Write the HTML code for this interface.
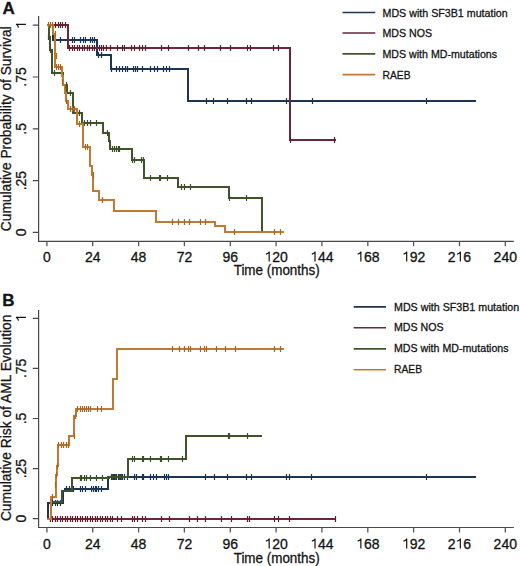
<!DOCTYPE html>
<html><head><meta charset="utf-8"><style>
html,body{margin:0;padding:0;background:#fff;}
body{width:520px;height:566px;overflow:hidden;}
svg{display:block;font-family:"Liberation Sans", sans-serif;}
svg text{fill:#141414;stroke:#141414;stroke-width:0.3px;}
</style></head><body>
<svg width="520" height="566" viewBox="0 0 520 566">
<path d="M38.6,16.1V241.35H513.8" stroke="#484848" stroke-width="1.2" fill="none"/>
<path d="M32.8,25.2H38.6M32.8,77.0H38.6M32.8,128.8H38.6M32.8,180.6H38.6M32.8,232.4H38.6" stroke="#484848" stroke-width="1.2" fill="none"/>
<path d="M46.9,241.35V246.3M92.7,241.35V246.3M138.6,241.35V246.3M184.4,241.35V246.3M230.3,241.35V246.3M276.1,241.35V246.3M321.9,241.35V246.3M367.8,241.35V246.3M413.6,241.35V246.3M459.5,241.35V246.3M505.3,241.35V246.3" stroke="#5a5a5a" stroke-width="1.3" fill="none"/>
<text x="43.01" y="261.5" font-size="14">0</text>
<text x="84.96" y="261.5" font-size="14">2</text><text x="92.74" y="261.5" font-size="14">4</text>
<text x="130.80" y="261.5" font-size="14">4</text><text x="138.58" y="261.5" font-size="14">8</text>
<text x="176.64" y="261.5" font-size="14">7</text><text x="184.42" y="261.5" font-size="14">2</text>
<text x="222.48" y="261.5" font-size="14">9</text><text x="230.26" y="261.5" font-size="14">6</text>
<path d="M269.17,261.50V251.50M269.47,251.80C268.57,253.30 266.97,253.90 265.97,254.10" stroke="#141414" stroke-width="1.2" fill="none"/><text x="272.21" y="261.5" font-size="14">2</text><text x="279.99" y="261.5" font-size="14">0</text>
<path d="M315.01,261.50V251.50M315.31,251.80C314.41,253.30 312.81,253.90 311.81,254.10" stroke="#141414" stroke-width="1.2" fill="none"/><text x="318.05" y="261.5" font-size="14">4</text><text x="325.83" y="261.5" font-size="14">4</text>
<path d="M360.85,261.50V251.50M361.15,251.80C360.25,253.30 358.65,253.90 357.65,254.10" stroke="#141414" stroke-width="1.2" fill="none"/><text x="363.89" y="261.5" font-size="14">6</text><text x="371.67" y="261.5" font-size="14">8</text>
<path d="M406.69,261.50V251.50M406.99,251.80C406.09,253.30 404.49,253.90 403.49,254.10" stroke="#141414" stroke-width="1.2" fill="none"/><text x="409.73" y="261.5" font-size="14">9</text><text x="417.51" y="261.5" font-size="14">2</text>
<text x="447.78" y="261.5" font-size="14">2</text><path d="M460.32,261.50V251.50M460.62,251.80C459.72,253.30 458.12,253.90 457.12,254.10" stroke="#141414" stroke-width="1.2" fill="none"/><text x="463.35" y="261.5" font-size="14">6</text>
<text x="493.62" y="261.5" font-size="14">2</text><text x="501.41" y="261.5" font-size="14">4</text><text x="509.19" y="261.5" font-size="14">0</text>
<g transform="translate(25.9,25.2) rotate(-90)"><path d="M0.86,0.00V-10.00M1.16,-9.70C0.26,-8.20 -1.34,-7.60 -2.34,-7.40" stroke="#141414" stroke-width="1.2" fill="none"/></g>
<g transform="translate(25.9,77.0) rotate(-90)"><text x="-9.73" y="0" font-size="14">.</text><text x="-5.84" y="0" font-size="14">7</text><text x="1.95" y="0" font-size="14">5</text></g>
<g transform="translate(25.9,128.8) rotate(-90)"><text x="-5.84" y="0" font-size="14">.</text><text x="-1.95" y="0" font-size="14">5</text></g>
<g transform="translate(25.9,180.6) rotate(-90)"><text x="-9.73" y="0" font-size="14">.</text><text x="-5.84" y="0" font-size="14">2</text><text x="1.95" y="0" font-size="14">5</text></g>
<g transform="translate(25.9,232.4) rotate(-90)"><text x="-3.89" y="0" font-size="14">0</text></g>
<text x="233.7" y="275.3" font-size="14" textLength="86" lengthAdjust="spacingAndGlyphs">Time (months)</text>
<text transform="translate(11.0,231.2) rotate(-90)" font-size="14" textLength="204.8" lengthAdjust="spacingAndGlyphs">Cumulative Probability of Survival</text>
<path d="M342.5,12.5H375.3" stroke="#1e3552" stroke-width="1.6"/>
<text x="382.5" y="16.8" font-size="11" textLength="125.2" lengthAdjust="spacingAndGlyphs">MDS with SF3B1 mutation</text>
<path d="M342.5,33.0H375.3" stroke="#66283a" stroke-width="1.6"/>
<text x="382.5" y="37.3" font-size="11" textLength="49.5" lengthAdjust="spacingAndGlyphs">MDS NOS</text>
<path d="M342.5,53.9H375.3" stroke="#40542b" stroke-width="1.6"/>
<text x="382.5" y="58.3" font-size="11" textLength="114.6" lengthAdjust="spacingAndGlyphs">MDS with MD-mutations</text>
<path d="M342.5,74.6H375.3" stroke="#c27a32" stroke-width="1.6"/>
<text x="382.5" y="78.7" font-size="11" textLength="28" lengthAdjust="spacingAndGlyphs">RAEB</text>
<path d="M47,25H53V40H97V55H111V69H188V101H476" stroke="#1e3552" stroke-width="2.0" fill="none" stroke-linejoin="miter" stroke-linecap="butt"/>
<path d="M54.5,37.0V43.0M60.5,37.0V43.0M72.5,37.0V43.0M74.5,37.0V43.0M80.5,37.0V43.0M83.5,37.0V43.0M85.5,37.0V43.0M90.5,37.0V43.0M92.5,37.0V43.0M94.5,37.0V43.0" stroke="#1a3352" stroke-width="1.2" fill="none"/>
<path d="M98.5,52.0V58.0M101.5,52.0V58.0" stroke="#1a3352" stroke-width="1.2" fill="none"/>
<path d="M111.5,66.0V72.0M116.5,66.0V72.0M119.5,66.0V72.0M122.5,66.0V72.0M125.5,66.0V72.0M127.5,66.0V72.0M133.5,66.0V72.0M135.5,66.0V72.0M137.5,66.0V72.0M142.5,66.0V72.0M150.5,66.0V72.0M154.5,66.0V72.0M157.5,66.0V72.0M163.5,66.0V72.0M166.5,66.0V72.0M169.5,66.0V72.0" stroke="#1a3352" stroke-width="1.2" fill="none"/>
<path d="M206.5,98.0V104.0M213.5,98.0V104.0M227.5,98.0V104.0M246.5,98.0V104.0M251.5,98.0V104.0M286.5,98.0V104.0M289.5,98.0V104.0M312.5,98.0V104.0M426.5,98.0V104.0" stroke="#1a3352" stroke-width="1.2" fill="none"/>
<path d="M47,25H68V48H290V140H336" stroke="#66283a" stroke-width="2.0" fill="none" stroke-linejoin="miter" stroke-linecap="butt"/>
<path d="M55.5,22.0V28.0M58.5,22.0V28.0M60.5,22.0V28.0M62.5,22.0V28.0M65.5,22.0V28.0" stroke="#5e1d2b" stroke-width="1.2" fill="none"/>
<path d="M69.5,45.0V51.0M72.5,45.0V51.0M74.5,45.0V51.0M77.5,45.0V51.0M79.5,45.0V51.0M82.5,45.0V51.0M84.5,45.0V51.0M87.5,45.0V51.0M89.5,45.0V51.0M92.5,45.0V51.0M94.5,45.0V51.0M99.5,45.0V51.0M101.5,45.0V51.0M103.5,45.0V51.0M106.5,45.0V51.0M110.5,45.0V51.0M117.5,45.0V51.0M122.5,45.0V51.0M124.5,45.0V51.0M131.5,45.0V51.0M134.5,45.0V51.0M139.5,45.0V51.0M142.5,45.0V51.0M145.5,45.0V51.0M161.5,45.0V51.0M168.5,45.0V51.0M188.5,45.0V51.0M198.5,45.0V51.0M204.5,45.0V51.0M220.5,45.0V51.0M230.5,45.0V51.0M247.5,45.0V51.0M250.5,45.0V51.0M273.5,45.0V51.0M278.5,45.0V51.0" stroke="#5e1d2b" stroke-width="1.2" fill="none"/>
<path d="M290.5,137.0V143.0M334.5,137.0V143.0" stroke="#5e1d2b" stroke-width="1.2" fill="none"/>
<path d="M47,25H49V37H50V50H52V60H52V73H63V85H67V93H73V113H82V123H103V133H109V141H110V149H132V160H144V178H178V187H229V198H262V232" stroke="#40542b" stroke-width="2.0" fill="none" stroke-linejoin="miter" stroke-linecap="butt"/>
<path d="M48.5,34.0V40.0M50.5,47.0V53.0M54.5,70.0V76.0M61.5,70.0V76.0M66.5,82.0V88.0M70.5,90.0V96.0M77.5,110.0V116.0M79.5,110.0V116.0M84.5,120.0V126.0M87.5,120.0V126.0M90.5,120.0V126.0M96.5,120.0V126.0M107.5,130.0V136.0M112.5,146.0V152.0M114.5,146.0V152.0M116.5,146.0V152.0M118.5,146.0V152.0M119.5,146.0V152.0M132.5,157.0V163.0M134.5,157.0V163.0M141.5,157.0V163.0M143.5,157.0V163.0M150.5,175.0V181.0M159.5,175.0V181.0M160.5,175.0V181.0M167.5,175.0V181.0M181.5,184.0V190.0M184.5,184.0V190.0M190.5,184.0V190.0M229.5,195.0V201.0M246.5,195.0V201.0" stroke="#3b4f26" stroke-width="1.2" fill="none"/>
<path d="M47,25H53V34H55V56H55V67H62V76H63V85H65V93H66V101H68V109H77V124H83V147H90V166H92V175H93V191H99V200H114V211H156V222H215V226H225V232H284" stroke="#c27a32" stroke-width="2.0" fill="none" stroke-linejoin="miter" stroke-linecap="butt"/>
<path d="M48.5,22.0V28.0M50.5,22.0V28.0M52.5,22.0V28.0M55.5,31.0V37.0M56.5,53.0V59.0M56.5,64.0V70.0M58.5,64.0V70.0M60.5,64.0V70.0M62.5,79.0V85.0M65.5,84.0V90.0M66.5,98.0V104.0M70.5,106.0V112.0M72.5,106.0V112.0M74.5,106.0V112.0M79.5,121.0V127.0M85.5,144.0V150.0M87.5,144.0V150.0M93.5,172.0V178.0M102.5,197.0V203.0M172.5,219.0V225.0M178.5,219.0V225.0M184.5,219.0V225.0M189.5,219.0V225.0M200.5,219.0V225.0M205.5,219.0V225.0M234.5,229.0V235.0M274.5,229.0V235.0M280.5,229.0V235.0" stroke="#a9661a" stroke-width="1.2" fill="none"/>
<path d="M38.6,310V527.5H513.8" stroke="#484848" stroke-width="1.2" fill="none"/>
<path d="M32.8,318.3H38.6M32.8,368.4H38.6M32.8,418.5H38.6M32.8,468.6H38.6M32.8,518.7H38.6" stroke="#484848" stroke-width="1.2" fill="none"/>
<path d="M46.9,527.5V532.5M92.7,527.5V532.5M138.6,527.5V532.5M184.4,527.5V532.5M230.3,527.5V532.5M276.1,527.5V532.5M321.9,527.5V532.5M367.8,527.5V532.5M413.6,527.5V532.5M459.5,527.5V532.5M505.3,527.5V532.5" stroke="#5a5a5a" stroke-width="1.3" fill="none"/>
<text x="43.01" y="548.5" font-size="14">0</text>
<text x="84.96" y="548.5" font-size="14">2</text><text x="92.74" y="548.5" font-size="14">4</text>
<text x="130.80" y="548.5" font-size="14">4</text><text x="138.58" y="548.5" font-size="14">8</text>
<text x="176.64" y="548.5" font-size="14">7</text><text x="184.42" y="548.5" font-size="14">2</text>
<text x="222.48" y="548.5" font-size="14">9</text><text x="230.26" y="548.5" font-size="14">6</text>
<path d="M269.17,548.50V538.50M269.47,538.80C268.57,540.30 266.97,540.90 265.97,541.10" stroke="#141414" stroke-width="1.2" fill="none"/><text x="272.21" y="548.5" font-size="14">2</text><text x="279.99" y="548.5" font-size="14">0</text>
<path d="M315.01,548.50V538.50M315.31,538.80C314.41,540.30 312.81,540.90 311.81,541.10" stroke="#141414" stroke-width="1.2" fill="none"/><text x="318.05" y="548.5" font-size="14">4</text><text x="325.83" y="548.5" font-size="14">4</text>
<path d="M360.85,548.50V538.50M361.15,538.80C360.25,540.30 358.65,540.90 357.65,541.10" stroke="#141414" stroke-width="1.2" fill="none"/><text x="363.89" y="548.5" font-size="14">6</text><text x="371.67" y="548.5" font-size="14">8</text>
<path d="M406.69,548.50V538.50M406.99,538.80C406.09,540.30 404.49,540.90 403.49,541.10" stroke="#141414" stroke-width="1.2" fill="none"/><text x="409.73" y="548.5" font-size="14">9</text><text x="417.51" y="548.5" font-size="14">2</text>
<text x="447.78" y="548.5" font-size="14">2</text><path d="M460.32,548.50V538.50M460.62,538.80C459.72,540.30 458.12,540.90 457.12,541.10" stroke="#141414" stroke-width="1.2" fill="none"/><text x="463.35" y="548.5" font-size="14">6</text>
<text x="493.62" y="548.5" font-size="14">2</text><text x="501.41" y="548.5" font-size="14">4</text><text x="509.19" y="548.5" font-size="14">0</text>
<g transform="translate(25.9,318.3) rotate(-90)"><path d="M0.86,0.00V-10.00M1.16,-9.70C0.26,-8.20 -1.34,-7.60 -2.34,-7.40" stroke="#141414" stroke-width="1.2" fill="none"/></g>
<g transform="translate(25.9,368.4) rotate(-90)"><text x="-9.73" y="0" font-size="14">.</text><text x="-5.84" y="0" font-size="14">7</text><text x="1.95" y="0" font-size="14">5</text></g>
<g transform="translate(25.9,418.5) rotate(-90)"><text x="-5.84" y="0" font-size="14">.</text><text x="-1.95" y="0" font-size="14">5</text></g>
<g transform="translate(25.9,468.6) rotate(-90)"><text x="-9.73" y="0" font-size="14">.</text><text x="-5.84" y="0" font-size="14">2</text><text x="1.95" y="0" font-size="14">5</text></g>
<g transform="translate(25.9,518.7) rotate(-90)"><text x="-3.89" y="0" font-size="14">0</text></g>
<text x="233.7" y="562.9" font-size="14" textLength="86" lengthAdjust="spacingAndGlyphs">Time (months)</text>
<text transform="translate(11.0,521.1) rotate(-90)" font-size="14" textLength="206.5" lengthAdjust="spacingAndGlyphs">Cumulative Risk of AML Evolution</text>
<path d="M353.7,306.9H386" stroke="#1e3552" stroke-width="1.6"/>
<text x="394" y="310.5" font-size="11" textLength="125.2" lengthAdjust="spacingAndGlyphs">MDS with SF3B1 mutation</text>
<path d="M353.7,327.8H386" stroke="#66283a" stroke-width="1.6"/>
<text x="394" y="331.4" font-size="11" textLength="49.5" lengthAdjust="spacingAndGlyphs">MDS NOS</text>
<path d="M353.7,348.9H386" stroke="#40542b" stroke-width="1.6"/>
<text x="394" y="352.2" font-size="11" textLength="114.6" lengthAdjust="spacingAndGlyphs">MDS with MD-mutations</text>
<path d="M353.7,369.8H386" stroke="#c27a32" stroke-width="1.6"/>
<text x="394" y="373.0" font-size="11" textLength="28" lengthAdjust="spacingAndGlyphs">RAEB</text>
<path d="M47,519H48V503H63V491H65V489H108V477H476" stroke="#1e3552" stroke-width="2.0" fill="none" stroke-linejoin="miter" stroke-linecap="butt"/>
<path d="M50.5,500.0V506.0M52.5,500.0V506.0M55.5,500.0V506.0M57.5,500.0V506.0M60.5,500.0V506.0" stroke="#1a3352" stroke-width="1.2" fill="none"/>
<path d="M66.5,486.0V492.0M69.5,486.0V492.0M73.5,486.0V492.0M80.5,486.0V492.0M82.5,486.0V492.0M85.5,486.0V492.0M91.5,486.0V492.0M93.5,486.0V492.0M95.5,486.0V492.0M96.5,486.0V492.0M98.5,486.0V492.0M101.5,486.0V492.0" stroke="#1a3352" stroke-width="1.2" fill="none"/>
<path d="M111.5,474.0V480.0M113.5,474.0V480.0M114.5,474.0V480.0M116.5,474.0V480.0M118.5,474.0V480.0M120.5,474.0V480.0M122.5,474.0V480.0M124.5,474.0V480.0M127.5,474.0V480.0M134.5,474.0V480.0M136.5,474.0V480.0M142.5,474.0V480.0M143.5,474.0V480.0M150.5,474.0V480.0M153.5,474.0V480.0M156.5,474.0V480.0M164.5,474.0V480.0M166.5,474.0V480.0M168.5,474.0V480.0M205.5,474.0V480.0M214.5,474.0V480.0M227.5,474.0V480.0M246.5,474.0V480.0M251.5,474.0V480.0M286.5,474.0V480.0M289.5,474.0V480.0M311.5,474.0V480.0M426.5,474.0V480.0" stroke="#1a3352" stroke-width="1.2" fill="none"/>
<path d="M47,519H335" stroke="#66283a" stroke-width="2.0" fill="none" stroke-linejoin="miter" stroke-linecap="butt"/>
<path d="M50.5,516.0V522.0M52.5,516.0V522.0M55.5,516.0V522.0M57.5,516.0V522.0M60.5,516.0V522.0M62.5,516.0V522.0M65.5,516.0V522.0M67.5,516.0V522.0M70.5,516.0V522.0M72.5,516.0V522.0M75.5,516.0V522.0M77.5,516.0V522.0M80.5,516.0V522.0M82.5,516.0V522.0M85.5,516.0V522.0M87.5,516.0V522.0M90.5,516.0V522.0M92.5,516.0V522.0M95.5,516.0V522.0M97.5,516.0V522.0M100.5,516.0V522.0M102.5,516.0V522.0M105.5,516.0V522.0M107.5,516.0V522.0M110.5,516.0V522.0M112.5,516.0V522.0M117.5,516.0V522.0M121.5,516.0V522.0M132.5,516.0V522.0M134.5,516.0V522.0M137.5,516.0V522.0M142.5,516.0V522.0M145.5,516.0V522.0M161.5,516.0V522.0M169.5,516.0V522.0M189.5,516.0V522.0M197.5,516.0V522.0M205.5,516.0V522.0M221.5,516.0V522.0M231.5,516.0V522.0M247.5,516.0V522.0M249.5,516.0V522.0M274.5,516.0V522.0M278.5,516.0V522.0M289.5,516.0V522.0M335.5,516.0V522.0" stroke="#5e1d2b" stroke-width="1.2" fill="none"/>
<path d="M47,519H51V502H62V491H72V478H109V477H128V459H186V436H262" stroke="#40542b" stroke-width="2.0" fill="none" stroke-linejoin="miter" stroke-linecap="butt"/>
<path d="M80.5,475.0V481.0M81.5,475.0V481.0M84.5,475.0V481.0M86.5,475.0V481.0M90.5,475.0V481.0M96.5,475.0V481.0M102.5,475.0V481.0" stroke="#3b4f26" stroke-width="1.2" fill="none"/>
<path d="M132.5,456.0V462.0M134.5,456.0V462.0M142.5,456.0V462.0M143.5,456.0V462.0M150.5,456.0V462.0M160.5,456.0V462.0M161.5,456.0V462.0M168.5,456.0V462.0M182.5,456.0V462.0" stroke="#3b4f26" stroke-width="1.2" fill="none"/>
<path d="M228.5,433.0V439.0M229.5,433.0V439.0M247.5,433.0V439.0" stroke="#3b4f26" stroke-width="1.2" fill="none"/>
<path d="M112.5,474.0V480.0M115.5,474.0V480.0M119.5,474.0V480.0M121.5,474.0V480.0" stroke="#3b4f26" stroke-width="1.2" fill="none"/>
<path d="M47,519H51V497H56V485H56V475H57V466H58V455H58V445H69V436H74V416H76V409H113V379H117V349H284" stroke="#c27a32" stroke-width="2.0" fill="none" stroke-linejoin="miter" stroke-linecap="butt"/>
<path d="M58.5,442.0V448.0M61.5,442.0V448.0M63.5,442.0V448.0M66.5,442.0V448.0M68.5,442.0V448.0" stroke="#a9661a" stroke-width="1.2" fill="none"/>
<path d="M52.5,494.0V500.0M55.5,482.0V488.0M56.5,472.0V478.0M57.5,463.0V469.0M74.5,433.0V439.0M75.5,413.0V419.0" stroke="#a9661a" stroke-width="1.2" fill="none"/>
<path d="M77.5,406.0V412.0M80.5,406.0V412.0M82.5,406.0V412.0M84.5,406.0V412.0M86.5,406.0V412.0M88.5,406.0V412.0M90.5,406.0V412.0M97.5,406.0V412.0M101.5,406.0V412.0" stroke="#a9661a" stroke-width="1.2" fill="none"/>
<path d="M172.5,346.0V352.0M179.5,346.0V352.0M184.5,346.0V352.0M188.5,346.0V352.0M190.5,346.0V352.0M200.5,346.0V352.0M204.5,346.0V352.0M206.5,346.0V352.0M216.5,346.0V352.0M225.5,346.0V352.0M235.5,346.0V352.0M274.5,346.0V352.0M280.5,346.0V352.0" stroke="#a9661a" stroke-width="1.2" fill="none"/>
<text x="2.6" y="13.5" font-size="17" font-weight="bold">A</text>
<text x="2.2" y="305.6" font-size="17" font-weight="bold">B</text>
</svg>
</body></html>
